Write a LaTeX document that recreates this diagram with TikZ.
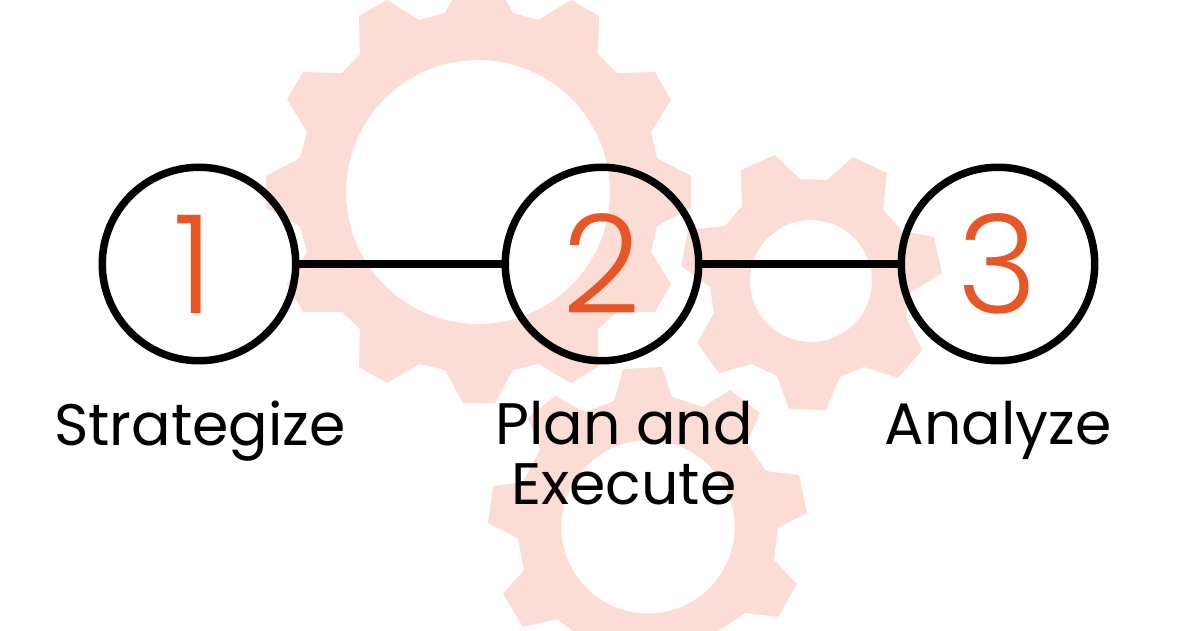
\documentclass[tikz,border=0pt]{standalone}
\usepackage{fontspec}
\setmainfont{Poppins}
\newfontfamily\numfont{Poppins Light}
\usepackage{xcolor}
\usetikzlibrary{calc}
\definecolor{gearpink}{HTML}{FCDDD5}
\definecolor{numorange}{HTML}{E75626}
\tikzset{
	stepcircle/.style={draw=black,line width=.15cm,circle,minimum size=3.87cm,inner sep=0pt,
		text=numorange,font=\numfont\fontsize{78pt}{78pt}\selectfont},
	steplabel/.style={text=black,align=center,inner sep=0pt,font=\fontsize{33.3pt}{34.2pt}\selectfont},
	steplink/.style={line width=.15cm,black},
}

\begin{document}
\begin{tikzpicture}[x=.02cm,y=-.02cm]
	
	\useasboundingbox (0,0) rectangle (1200,630);
	\clip (0,0) rectangle (1200,630);
	
	\coordinate (G1) at (478,192);   % big gear, centre of the hole
	\coordinate (G2) at (811,281);   % gear on the right
	\coordinate (G3) at (648,527);   % gear at the bottom
	
	\fill[gearpink,even odd rule]
		(445,370) -- (463,403) -- (495,403) -- (513,370) -- (538,364) -- (571,383)
		-- (598,367) -- (598,329) -- (617,312) -- (655,312) -- (671,284) -- (651,252)
		-- (657,226) -- (691,208) -- (691,176) -- (657,158) -- (651,132) -- (671,100)
		-- (655,72) -- (617,73) -- (598,54) -- (599,16) -- (571,0) -- (538,20)
		-- (513,13) -- (495,-20) -- (463,-20) -- (445,13) -- (419,20) -- (387,0)
		-- (359,16) -- (360,54) -- (342,73) -- (303,72) -- (287,99) -- (307,132)
		-- (300,158) -- (266,176) -- (266,208) -- (300,226) -- (307,252) -- (287,284)
		-- (303,312) -- (342,312) -- (360,329) -- (359,367) -- (387,383) -- (419,364)
		-- cycle
		(G1) circle [radius=2.64cm];
	\fill[gearpink,even odd rule]
		(775,155) -- (800,179) -- (827,180) -- (853,157) -- (887,173) -- (883,209)
		-- (902,231) -- (934,237) -- (942,273) -- (910,293) -- (906,317) -- (922,350)
		-- (898,378) -- (864,367) -- (840,377) -- (826,410) -- (789,409) -- (777,376)
		-- (752,364) -- (719,373) -- (697,343) -- (714,313) -- (710,287) -- (681,266)
		-- (688,230) -- (725,226) -- (742,206) -- (741,170) -- cycle
		(G2) circle [radius=1.22cm];
	\fill[gearpink,even odd rule]
		(623,369) -- (662,367) -- (672,397) -- (703,407) -- (730,390) -- (760,413)
		-- (747,443) -- (766,471) -- (799,475) -- (807,513) -- (778,528) -- (774,560)
		-- (797,584) -- (778,617) -- (745,613) -- (717,632) -- (581,637) -- (557,619)
		-- (523,627) -- (503,594) -- (524,570) -- (518,538) -- (488,523) -- (493,486)
		-- (523,482) -- (540,450) -- (528,418) -- (555,396) -- (585,412) -- (614,401)
		-- cycle
		(G3) circle [radius=1.733cm];
	
	\node[stepcircle] (S1) at (199,264) {\kern-6pt 1};
	\node[stepcircle] (S2) at (602,264) {2};
	\node[stepcircle] (S3) at (998,264) {3};
	
	\draw[steplink] (S1)--(S2) (S2)--(S3);
	
	\node[steplabel,anchor=north] (L1) at (200,401) {Strategize};
	\node[steplabel,anchor=north] (L2) at (624,401) {Plan and\\Execute};
	\node[steplabel,anchor=north] (L3) at (998,401) {Analyze};
	
\end{tikzpicture}
\end{document}
